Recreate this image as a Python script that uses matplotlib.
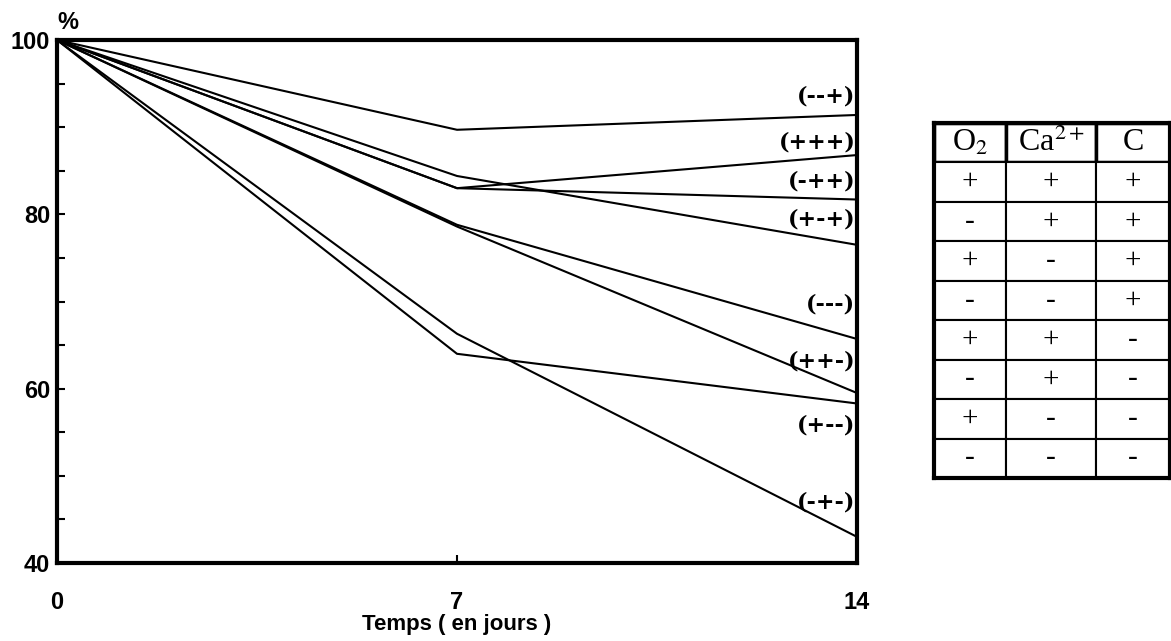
import matplotlib.pyplot as plt

# Data
days = [0, 7, 14]
series_labels = ['(--+)', '(+++)', '(-++)', '(+-+)', '(---)', '(++-)', '(+--)', '(-+-)']
series_values = [
    [100, 89.7, 91.4],
    [100, 83.0, 86.8],
    [100, 83.0, 81.7],
    [100, 84.4, 76.5],
    [100, 78.8, 65.7],
    [100, 78.6, 59.5],
    [100, 64.0, 58.3],
    [100, 66.3, 43.0],
]
label_y = [93.5, 88.2, 83.8, 79.4, 69.6, 63.1, 55.8, 46.9]

table_header = ['O$_2$', 'Ca$^{2+}$', 'C']
table_rows = [
    ['+', '+', '+'],
    ['-', '+', '+'],
    ['+', '-', '+'],
    ['-', '-', '+'],
    ['+', '+', '-'],
    ['-', '+', '-'],
    ['+', '-', '-'],
    ['-', '-', '-'],
]

plt.rcParams['mathtext.fontset'] = 'stix'
sans = ['Liberation Sans Narrow', 'Liberation Sans', 'DejaVu Sans']
serif = ['Liberation Serif', 'DejaVu Serif']

fig = plt.figure(figsize=(11.71, 6.41), dpi=100)
ax = fig.add_axes([57 / 1171, 1 - 563 / 641, 800 / 1171, 523 / 641])

for vals, lab, ly in zip(series_values, series_labels, label_y):
    ax.plot(days, vals, color='black', linewidth=1.5)
    ax.text(13.97, ly, lab, ha='right', va='center', fontsize=16,
            fontweight='bold', family='DejaVu Serif')

ax.set_xlim(0, 14)
ax.set_ylim(40, 100)
ax.set_xticks(days)
ax.set_yticks([40, 60, 80, 100])
ax.set_yticks(range(40, 101, 5), minor=True)
ax.tick_params(axis='both', which='both', direction='in', length=6, width=1.5)
ax.tick_params(axis='x', pad=20)
ax.tick_params(axis='y', pad=5)
for t in ax.get_xticklabels() + ax.get_yticklabels():
    t.set_family(sans)
    t.set_fontweight('bold')
    t.set_fontsize(17)
for s in ax.spines.values():
    s.set_linewidth(3)

ax.set_xlabel('Temps ( en jours )', family=sans, fontweight='bold', fontsize=16, labelpad=0)
ax.text(0, 1.012, '%', transform=ax.transAxes, ha='left', va='bottom',
        family=sans, fontweight='bold', fontsize=17)

# Legend table
tax = fig.add_axes([934 / 1171, 1 - 478 / 641, 236 / 1171, 355 / 641])
tax.set_xticks([])
tax.set_yticks([])
for s in tax.spines.values():
    s.set_linewidth(3)
tbl = tax.table(cellText=table_rows, colLabels=table_header, cellLoc='center',
                bbox=[0, 0, 1, 1], colWidths=[72, 90, 74])
tbl.auto_set_font_size(False)
for (r, c), cell in tbl.get_celld().items():
    cell.set_linewidth(1.5)
    cell.get_text().set_family(serif)
    cell.get_text().set_fontsize(23 if r == 0 else 21)
    if r == 0:
        cell.set_linewidth(2.5)

fig.savefig('out.png', dpi=100)
